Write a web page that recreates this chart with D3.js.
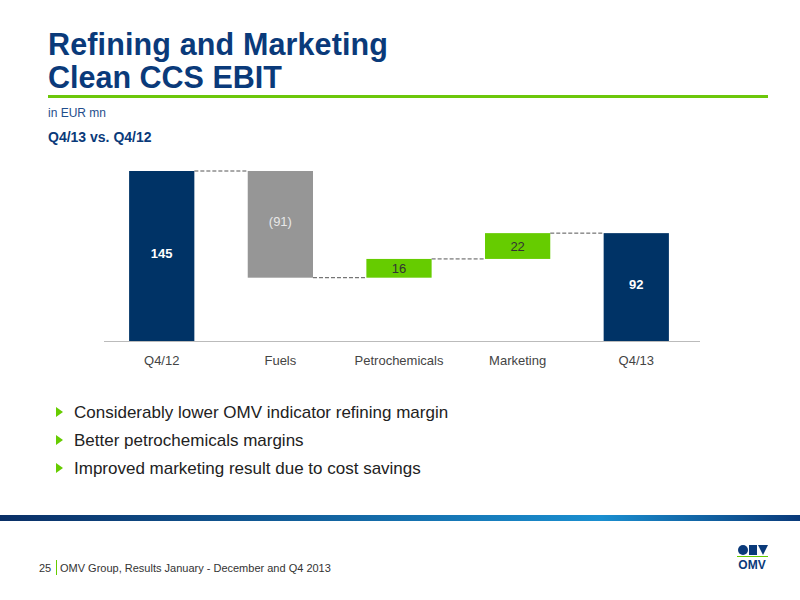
<!DOCTYPE html>
<html><head><meta charset="utf-8">
<script src="https://cdn.jsdelivr.net/npm/d3@7"></script>
<style>body{margin:0;background:#fff;font-family:"Liberation Sans",Arial,sans-serif;}</style>
</head><body>
<div id="chart"></div>
<script>
const categories = ["Q4/12", "Fuels", "Petrochemicals", "Marketing", "Q4/13"];
const values = [145, -91, 16, 22, 92];
const kinds = ["total", "delta", "delta", "delta", "total"];
const labels = ["145", "(91)", "16", "22", "92"];
const bullets = ["Considerably lower OMV indicator refining margin", "Better petrochemicals margins", "Improved marketing result due to cost savings"];

const width = 800, height = 600;
const svg = d3.select("#chart").append("svg").attr("width", width).attr("height", height);

// header
svg.append("text").attr("x", 48).attr("y", 55).attr("fill", "#0a3a7a").attr("font-size", 30.5).attr("font-weight", "bold").attr("textLength", 340).text("Refining and Marketing");
svg.append("text").attr("x", 48).attr("y", 88).attr("fill", "#0a3a7a").attr("font-size", 30.5).attr("font-weight", "bold").text("Clean CCS EBIT");
svg.append("rect").attr("x", 48).attr("y", 95).attr("width", 720).attr("height", 3).attr("fill", "#6cc70a");
svg.append("text").attr("x", 48).attr("y", 117).attr("fill", "#1f4e8c").attr("font-size", 12).text("in EUR mn");
svg.append("text").attr("x", 48).attr("y", 142).attr("fill", "#0a3a7a").attr("font-size", 14).attr("font-weight", "bold").text("Q4/13 vs. Q4/12");

// waterfall
let run = 0;
const steps = values.map((v, i) => {
  let lo, hi;
  if (kinds[i] === "total") { lo = 0; hi = v; run = v; }
  else { const s = run; run += v; lo = Math.min(s, run); hi = Math.max(s, run); }
  return { cat: categories[i], v, lo, hi, end: run, kind: kinds[i], label: labels[i] };
});

const x = d3.scaleBand().domain(categories).range([103, 695]).paddingInner(0.45).paddingOuter(0.22);
const y = d3.scaleLinear().domain([0, 145]).range([341, 171]);
const color = d => d.kind === "total" ? "#003366" : (d.v < 0 ? "#969696" : "#66cc00");

svg.selectAll("rect.bar").data(steps).join("rect").attr("class", "bar")
  .attr("x", d => x(d.cat)).attr("width", x.bandwidth())
  .attr("y", d => y(d.hi)).attr("height", d => y(d.lo) - y(d.hi))
  .attr("fill", color);

// connectors
svg.selectAll("line.conn").data(steps.slice(0, -1)).join("line").attr("class", "conn")
  .attr("x1", d => x(d.cat) + x.bandwidth()).attr("x2", (d, i) => x(categories[i + 1]))
  .attr("y1", d => y(d.end)).attr("y2", d => y(d.end))
  .attr("stroke", "#555").attr("stroke-dasharray", "4,2").attr("stroke-width", 1);

svg.selectAll("text.val").data(steps).join("text").attr("class", "val")
  .attr("x", d => x(d.cat) + x.bandwidth() / 2)
  .attr("y", d => d.kind === "total" ? y(d.hi * 0.5) + 2 : (d.v < 0 ? y(d.hi) + 55 : (y(d.hi) + y(d.lo)) / 2 + 5))
  .attr("text-anchor", "middle").attr("font-size", 13)
  .attr("font-weight", d => d.kind === "total" ? "bold" : "normal")
  .attr("fill", d => d.kind === "total" ? "#fff" : (d.v < 0 ? "#e8e8e8" : "#333"))
  .text(d => d.label);

const ax = svg.append("g").attr("transform", "translate(0,341)")
  .call(d3.axisBottom(x).tickSize(0).tickPadding(15));
ax.select(".domain").attr("stroke", "#bbb").attr("d", "M104,0.5H700");
ax.selectAll("text").attr("font-size", 13).attr("fill", "#444").attr("font-family", "Liberation Sans, Arial");

// bullets
bullets.forEach((b, i) => {
  const by = 413 + i * 28;
  svg.append("path").attr("d", `M56,${by - 6}L63,${by - 1}L56,${by + 4}Z`).attr("fill", "#66cc00");
  svg.append("text").attr("x", 74).attr("y", by + 5).attr("font-size", 17).attr("fill", "#222").text(b);
});

// footer band
const grad = svg.append("defs").append("linearGradient").attr("id", "g1");
grad.append("stop").attr("offset", "0%").attr("stop-color", "#0a2f66");
grad.append("stop").attr("offset", "75%").attr("stop-color", "#1a8fd0");
grad.append("stop").attr("offset", "100%").attr("stop-color", "#0a3a7a");
svg.append("rect").attr("x", 0).attr("y", 515).attr("width", 800).attr("height", 6).attr("fill", "url(#g1)");
svg.append("text").attr("x", 39).attr("y", 572).attr("font-size", 11).attr("fill", "#333").text("25");
svg.append("rect").attr("x", 56).attr("y", 560).attr("width", 1).attr("height", 15).attr("fill", "#66cc00");
svg.append("text").attr("x", 60).attr("y", 572).attr("font-size", 11).attr("fill", "#333").text("OMV Group, Results January - December and Q4 2013");

// logo
svg.append("circle").attr("cx", 743).attr("cy", 550).attr("r", 5).attr("fill", "#0a3a7a");
svg.append("rect").attr("x", 749).attr("y", 545).attr("width", 8).attr("height", 10).attr("fill", "#0a3a7a");
svg.append("path").attr("d", "M758,545H768L763,555Z").attr("fill", "#0a3a7a");
svg.append("rect").attr("x", 737).attr("y", 556).attr("width", 31).attr("height", 1).attr("fill", "#66cc00");
svg.append("text").attr("x", 752).attr("y", 569).attr("text-anchor", "middle").attr("font-size", 12).attr("font-weight", "bold").attr("fill", "#0a3a7a").text("OMV");
</script>
</body></html>
